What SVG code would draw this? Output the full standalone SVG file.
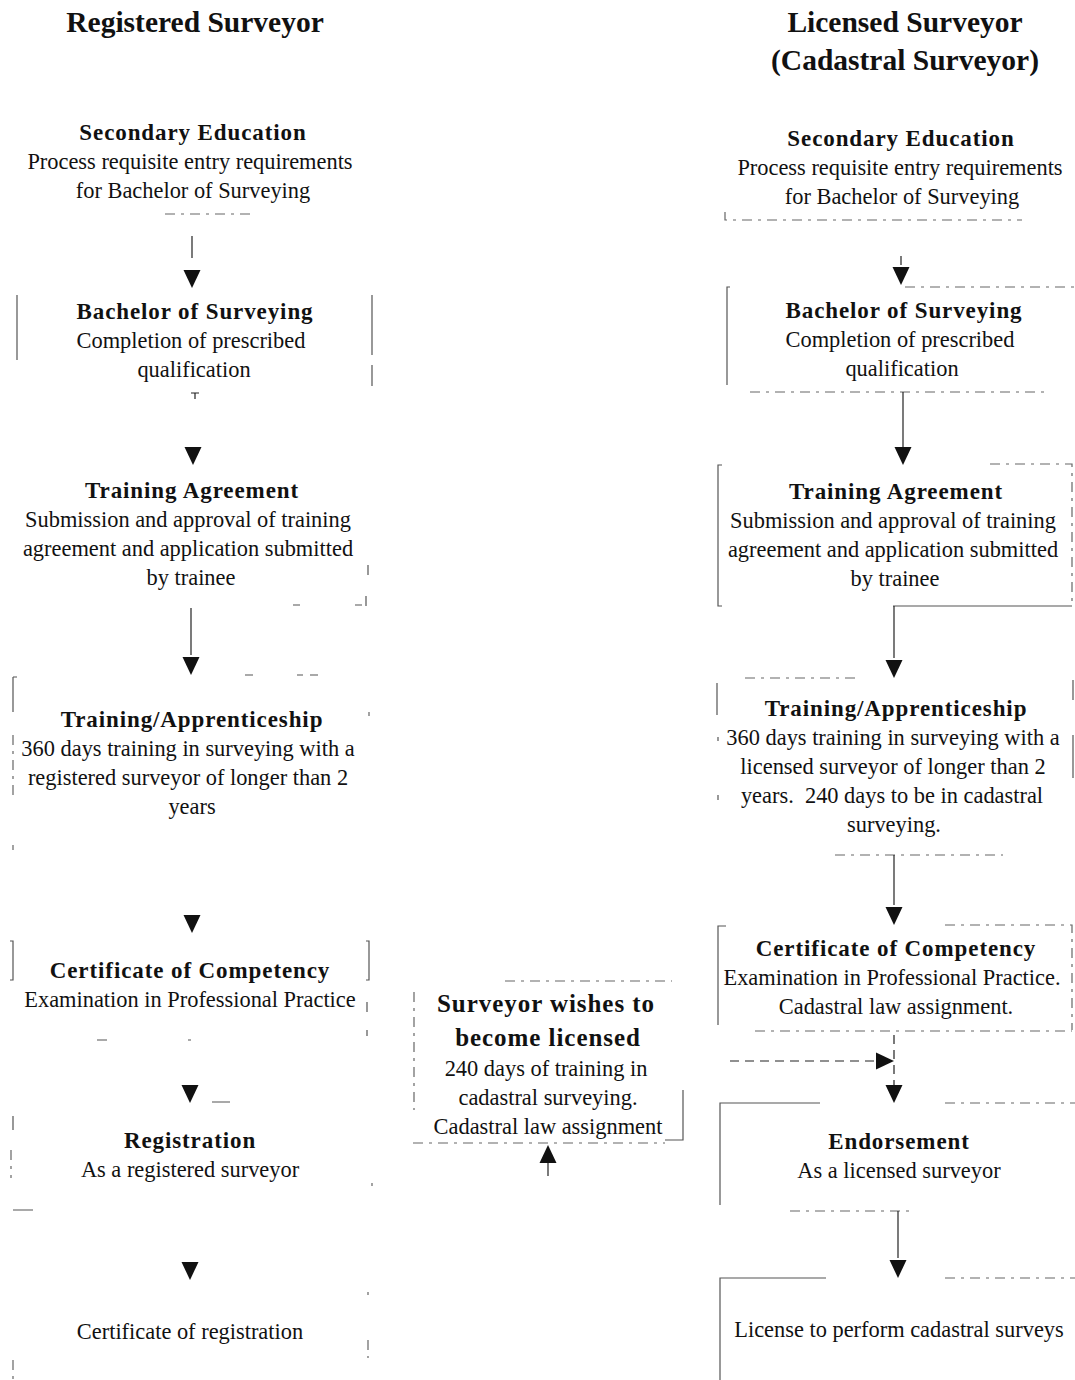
<svg xmlns="http://www.w3.org/2000/svg" width="1075" height="1380" viewBox="0 0 1075 1380">
  <style>
    .title { font-family: "Liberation Serif", "Times New Roman", serif; font-weight: bold; font-size: 29.5px; fill: #111; text-anchor: middle; }
    .head { font-family: "Liberation Serif", "Times New Roman", serif; font-weight: bold; font-size: 23px; letter-spacing: 0.9px; fill: #111; text-anchor: middle; }
    .headL { font-family: "Liberation Serif", "Times New Roman", serif; font-weight: bold; font-size: 25px; letter-spacing: 0.95px; fill: #111; text-anchor: middle; }
    .body { font-family: "Liberation Serif", "Times New Roman", serif; font-size: 22.4px; fill: #111; text-anchor: middle; }
    .edge { fill: none; stroke: #555; stroke-width: 1.2; }
    .edge-d { fill: none; stroke: #666; stroke-width: 1.2; stroke-dasharray: 10 6 3 6; }
    .line { fill: none; stroke: #222; stroke-width: 1.2; }
    .dline { fill: none; stroke: #222; stroke-width: 1.2; stroke-dasharray: 9 6; }
    .head-tri { fill: #111; }
  </style>
  <defs>
    <!-- downward arrowhead, tip at the origin -->
    <path id="tri" d="M-8.5,-18 L8.5,-18 L0,0 Z"/>
  </defs>
  <rect width="1075" height="1380" fill="#fff"/>

  <!-- column titles -->
  <text class="title" x="195" y="32">Registered Surveyor</text>
  <text class="title" x="905" y="32">Licensed Surveyor</text>
  <text class="title" x="905" y="70">(Cadastral Surveyor)</text>

  <!-- ===== Registered surveyor column ===== -->
  <g id="reg-secondary">
    <path class="edge-d" d="M165,214 H250"/>
    <text class="head" x="193" y="140">Secondary Education</text>
    <text class="body" x="190" y="169">Process requisite entry requirements</text>
    <text class="body" x="193" y="198">for Bachelor of Surveying</text>
  </g>
  <g id="reg-bachelor">
    <path class="edge" d="M17,295 V360 M372,295 V355 M372,365 V386"/>
    <text class="head" x="195" y="319">Bachelor of Surveying</text>
    <text class="body" x="191" y="348">Completion of prescribed</text>
    <text class="body" x="194" y="377">qualification</text>
  </g>
  <g id="reg-agreement">
    <path class="edge" d="M368,565 V575 M293,605 H300 M355,605 H362 M366,596 V606"/>
    <text class="head" x="192" y="498">Training Agreement</text>
    <text class="body" x="188" y="527">Submission and approval of training</text>
    <text class="body" x="188" y="556">agreement and application submitted</text>
    <text class="body" x="191" y="585">by trainee</text>
  </g>
  <g id="reg-apprentice">
    <path class="edge" d="M245,675 H253 M297,675 H303 M310,675 H318 M13,677 H17 M13,677 V712"/>
    <path class="edge-d" d="M13,735 V800 M13,845 V850 M369,712 V716"/>
    <text class="head" x="192" y="727">Training/Apprenticeship</text>
    <text class="body" x="188" y="756">360 days training in surveying with a</text>
    <text class="body" x="188" y="785">registered surveyor of longer than 2</text>
    <text class="body" x="192" y="814">years</text>
  </g>
  <g id="reg-competency">
    <path class="edge" d="M10,941 H13 V980 H10 M366,941 H369 V980 H366 M367,1002 V1012 M97,1040 H107 M188,1040 H191 M367,1030 V1036"/>
    <text class="head" x="190" y="978">Certificate of Competency</text>
    <text class="body" x="190" y="1007">Examination in Professional Practice</text>
  </g>
  <g id="reg-registration">
    <path class="edge" d="M212,1102 H230 M13,1116 V1130 M13,1210 H33"/>
    <path class="edge-d" d="M11,1150 V1178 M372,1183 V1186"/>
    <text class="head" x="190" y="1148">Registration</text>
    <text class="body" x="190" y="1177">As a registered surveyor</text>
  </g>
  <g id="reg-certificate">
    <path class="edge-d" d="M368,1292 V1295 M368,1340 V1358 M13,1360 V1380"/>
    <text class="body" x="190" y="1339">Certificate of registration</text>
  </g>

  <!-- ===== Licensed surveyor column ===== -->
  <g id="lic-secondary">
    <path class="edge-d" d="M725,212 V220 H1022"/>
    <text class="head" x="901" y="146">Secondary Education</text>
    <text class="body" x="900" y="175">Process requisite entry requirements</text>
    <text class="body" x="902" y="204">for Bachelor of Surveying</text>
  </g>
  <g id="lic-bachelor">
    <path class="edge" d="M730,287 H727 V385"/>
    <path class="edge-d" d="M905,287 H1075"/>
    <path class="edge-d" d="M750,392 H1047"/>
    <text class="head" x="904" y="318">Bachelor of Surveying</text>
    <text class="body" x="900" y="347">Completion of prescribed</text>
    <text class="body" x="902" y="376">qualification</text>
  </g>
  <g id="lic-agreement">
    <path class="edge" d="M722,465 H718 V606 H722"/>
    <path class="edge-d" d="M990,464 H1072 V605"/>
    <path class="edge" d="M893,606 H1072"/>
    <text class="head" x="896" y="499">Training Agreement</text>
    <text class="body" x="893" y="528">Submission and approval of training</text>
    <text class="body" x="893" y="557">agreement and application submitted</text>
    <text class="body" x="895" y="586">by trainee</text>
  </g>
  <g id="lic-apprentice">
    <path class="edge-d" d="M745,678 H860"/>
    <path class="edge" d="M717,683 V715 M1073,680 V700 M1073,735 V778 M718,737 V741 M718,795 V800"/>
    <text class="head" x="896" y="716">Training/Apprenticeship</text>
    <text class="body" x="893" y="745">360 days training in surveying with a</text>
    <text class="body" x="893" y="774">licensed surveyor of longer than 2</text>
    <text class="body" x="892" y="803">years.&#160; 240 days to be in cadastral</text>
    <text class="body" x="894" y="832">surveying.</text>
    <path class="edge-d" d="M835,855 H1003"/>
  </g>
  <g id="lic-competency">
    <path class="edge" d="M726,926 H718 V1025"/>
    <path class="edge-d" d="M945,925 H1072 V1030"/>
    <path class="edge-d" d="M755,1031 H1072"/>
    <text class="head" x="896" y="956">Certificate of Competency</text>
    <text class="body" x="892" y="985">Examination in Professional Practice.</text>
    <text class="body" x="896" y="1014">Cadastral law assignment.</text>
  </g>
  <g id="lic-endorsement">
    <path class="edge" d="M820,1103 H720 V1205"/>
    <path class="edge-d" d="M945,1103 H1075"/>
    <path class="edge-d" d="M790,1211 H915"/>
    <text class="head" x="899" y="1149">Endorsement</text>
    <text class="body" x="899" y="1178">As a licensed surveyor</text>
  </g>
  <g id="lic-license">
    <path class="edge" d="M826,1278 H720 V1380"/>
    <path class="edge-d" d="M945,1278 H1075"/>
    <text class="body" x="899" y="1337">License to perform cadastral surveys</text>
  </g>

  <!-- ===== Route to licensing ===== -->
  <g id="wishes-licensed">
    <path class="edge-d" d="M505,981 H672"/>
    <path class="edge-d" d="M414,992 V1110"/>
    <path class="edge" d="M683,1090 V1140 H665"/>
    <path class="edge-d" d="M413,1143 H665"/>
    <text class="headL" x="546" y="1012">Surveyor wishes to</text>
    <text class="headL" x="548" y="1046">become licensed</text>
    <text class="body" x="546" y="1076">240 days of training in</text>
    <text class="body" x="548" y="1105">cadastral surveying.</text>
    <text class="body" x="548" y="1134">Cadastral law assignment</text>
  </g>

  <!-- ===== Connectors ===== -->
  <g id="connectors">
    <!-- registered column -->
    <path class="line" d="M192,236 V258"/>
    <use href="#tri" class="head-tri" transform="translate(192,288)"/>
    <path class="line" d="M195,393 V399 M191,393 H199"/>
    <use href="#tri" class="head-tri" transform="translate(193,465)"/>
    <path class="line" d="M191,608 V655"/>
    <use href="#tri" class="head-tri" transform="translate(191,675)"/>
    <use href="#tri" class="head-tri" transform="translate(192,933)"/>
    <use href="#tri" class="head-tri" transform="translate(190,1103)"/>
    <use href="#tri" class="head-tri" transform="translate(190,1280)"/>

    <!-- licensed column -->
    <path class="line" d="M901,256 V265"/>
    <use href="#tri" class="head-tri" transform="translate(901,285)"/>
    <path class="line" d="M903,392 V447"/>
    <use href="#tri" class="head-tri" transform="translate(903,465)"/>
    <path class="line" d="M894,606 V658"/>
    <use href="#tri" class="head-tri" transform="translate(894,678)"/>
    <path class="line" d="M894,855 V905"/>
    <use href="#tri" class="head-tri" transform="translate(894,925)"/>
    <path class="dline" d="M894,1035 V1085"/>
    <use href="#tri" class="head-tri" transform="translate(894,1103)"/>
    <path class="line" d="M898,1211 V1258"/>
    <use href="#tri" class="head-tri" transform="translate(898,1278)"/>

    <!-- from the licensing box into the licensed column -->
    <path class="dline" d="M730,1061 H878"/>
    <use href="#tri" class="head-tri" transform="translate(894,1061) rotate(-90)"/>

    <!-- up arrow below the licensing box -->
    <use href="#tri" class="head-tri" transform="translate(548,1145) rotate(180)"/>
    <path class="line" d="M548,1163 V1176"/>
  </g>
</svg>
